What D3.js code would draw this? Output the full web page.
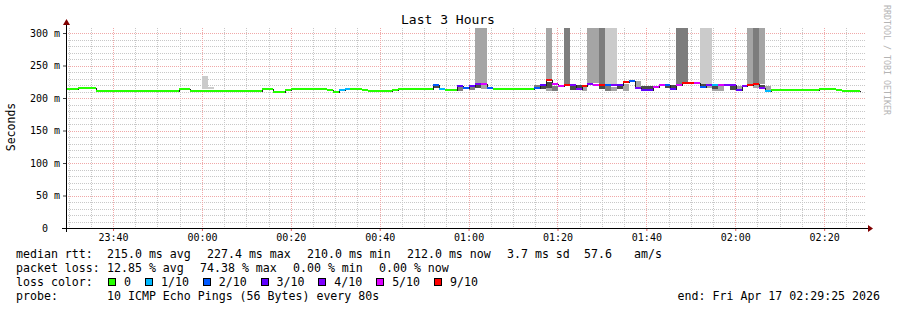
<!DOCTYPE html>
<html>
<head>
<meta charset="utf-8">
<script src="https://cdn.jsdelivr.net/npm/d3@7"></script>
<style>
  body { margin: 0; background: #fff; }
  svg text { font-family: "DejaVu Sans Mono", monospace; white-space: pre; }
</style>
</head>
<body>
<svg id="chart"></svg>
<script>
// time window of the graph and the rrd step
var startTime = new Date(2026, 3, 16, 23, 29, 25);
var endTime = new Date(2026, 3, 17, 2, 29, 25);
var stepSec = 80;
var lastStep = 134;

// loss legend
var lossLabels = ["0", "1/10", "2/10", "3/10", "4/10", "5/10", "9/10"];
var lossColors = ["#26ff00", "#00b8ff", "#0059ff", "#5e00ff", "#7e00ff", "#dd00ff", "#ff0000"];

// median rtt, as runs of equal steps (step index where the run starts)
var runStep = [0, 2, 5, 19, 21, 33, 35, 36, 37, 38, 44, 45, 46, 47, 48, 50, 51, 55, 56,
  62, 63, 64, 66, 67, 68, 69, 70, 71, 72, 79, 80, 81, 82, 83, 84, 85, 86, 87, 88, 89,
  90, 91, 92, 93, 94, 95, 96, 97, 99, 100, 101, 102, 103, 104, 106, 107, 108, 109, 110,
  111, 113, 114, 115, 116, 117, 118, 119, 127, 130, 131];
var runMedian = [213.5, 215, 211.5, 214, 211.5, 214, 210, 209, 212.5, 214, 212, 210, 212.5, 214.5, 214.5, 212.5, 211.5, 213, 214.5,
  220.5, 214, 212, 219, 215, 219, 221, 221, 215.5, 214, 215, 220, 227, 221, 219, 220, 220, 214, 218.5, 221.5, 220,
  220, 220, 220, 220, 224, 226, 215, 212, 217, 220, 220.5, 214, 219.5, 223, 222.5, 217, 220, 220, 220,
  220, 213, 218, 220, 222, 216, 211.5, 212, 214, 212, 211];
var runLoss = [0, 0, 0, 0, 0, 0, 0, 0, 0, 0, 0, 0, 1, 1, 0, 0, 0, 0, 0,
  2, 1, 0, 3, 2, 3, 4, 5, 2, 0, 2, 3, 6, 5, 5, 6, 4, 4, 6, 4, 5,
  6, 2, 4, 3, 6, 2, 4, 3, 5, 5, 2, 3, 5, 6, 5, 2, 4, 1, 5,
  4, 3, 4, 6, 6, 4, 1, 0, 0, 0, 0];

// smoke (ping spread) bands: start step, length in steps, low/high ms, band rank (1 = outer)
var smokeStep = [23, 24, 62, 66, 68, 69, 69, 70, 79, 80, 81, 81, 81, 82, 84, 85, 86, 87, 88, 90, 90,
  91, 91, 92, 93, 94, 96, 97, 101, 102, 103, 107, 107, 108, 109, 109, 110, 112, 113, 115, 116, 116, 117, 117, 118];
var smokeLen = [1, 1, 1, 1, 1, 2, 1, 1, 1, 1, 1, 1, 1, 1, 1, 1, 1, 1, 2, 1, 1,
  2, 1, 1, 1, 1, 1, 2, 1, 1, 2, 2, 1, 1, 1, 1, 1, 1, 1, 1, 1, 1, 1, 1, 1];
var smokeLo = [213.5, 213.5, 215, 211, 213, 222, 216, 214, 216.5, 214, 228, 216, 211, 211, 222, 212, 215, 211, 223, 222, 214,
  222, 211, 211, 214, 211, 216, 214, 216, 215, 222, 222, 218, 215, 214, 211, 211, 212, 214, 221, 222, 216, 221, 216, 212];
var smokeHi = [233.5, 217, 219, 217, 217, 400, 219.5, 219.5, 220, 218.5, 400, 225, 216, 219, 400, 218, 220, 217, 400, 400, 219,
  400, 218, 217, 219, 222, 226, 219, 219, 220, 400, 400, 221, 219, 219, 214, 219, 218, 218, 400, 400, 220, 400, 220, 218];
var smokeRank = [1, 1, 4, 3, 3, 2, 4, 2, 3, 4, 2, 4, 2, 3, 3, 4, 4, 2, 2, 3, 4,
  1, 3, 2, 4, 2, 2, 4, 4, 4, 3, 1, 4, 2, 4, 2, 2, 4, 2, 2, 3, 2, 2, 4, 2];
var smokeGreys = ["#cbcbcb", "#a5a5a5", "#7d7d7d", "#4a4a4a"];

// y axis ticks
var yTicks = [0, 50, 100, 150, 200, 250, 300];

// legend text
var rttLine = ["median rtt:", "215.0 ms avg", "227.4 ms max", "210.0 ms min", "212.0 ms now", "3.7 ms sd", "57.6", "am/s"];
var rttX = [16, 107, 207, 307, 407, 507, 584, 634];
var lossLine = ["packet loss:", "12.85 % avg", "74.38 % max", "0.00 % min", "0.00 % now"];
var lossX = [16, 107, 200, 293, 379];
var probeText = "10 ICMP Echo Pings (56 Bytes) every 80s";
var endText = "end: Fri Apr 17 02:29:25 2026";

var W = 897, H = 310;
var svg = d3.select("#chart").attr("width", W).attr("height", H);

var x = d3.scaleTime().domain([startTime, endTime]).range([66, 866]);
var y = d3.scaleLinear().domain([0, 307.7]).range([228, 28]);

function stepTime(k) { return new Date(startTime.getTime() + k * stepSec * 1000); }

// grid
var minorY = d3.range(10, 301, 10).filter(function(v) { return v % 50 !== 0; });
var minorX = d3.timeMinute.every(5).range(startTime, endTime).filter(function(d) { return d.getMinutes() % 20 !== 0; });
var majorX = d3.timeMinute.every(20).range(startTime, endTime);

var grid = svg.append("g").attr("shape-rendering", "crispEdges");
grid.selectAll(".hmin").data(minorY).enter().append("line")
  .attr("x1", 66).attr("x2", 866)
  .attr("y1", function(d) { return Math.round(y(d)) + 0.5; })
  .attr("y2", function(d) { return Math.round(y(d)) + 0.5; })
  .attr("stroke", "#c8c8c8").attr("stroke-dasharray", "1,1");
grid.selectAll(".vmin").data(minorX).enter().append("line")
  .attr("x1", function(d) { return Math.round(x(d)) + 0.5; })
  .attr("x2", function(d) { return Math.round(x(d)) + 0.5; })
  .attr("y1", 28).attr("y2", 228)
  .attr("stroke", "#c8c8c8").attr("stroke-dasharray", "1,1");
grid.selectAll(".hmaj").data(yTicks.slice(1)).enter().append("line")
  .attr("x1", 66).attr("x2", 866)
  .attr("y1", function(d) { return Math.round(y(d)) + 0.5; })
  .attr("y2", function(d) { return Math.round(y(d)) + 0.5; })
  .attr("stroke", "#f0a8a8").attr("stroke-dasharray", "1,1");
grid.selectAll(".vmaj").data(majorX).enter().append("line")
  .attr("x1", function(d) { return Math.round(x(d)) + 0.5; })
  .attr("x2", function(d) { return Math.round(x(d)) + 0.5; })
  .attr("y1", 28).attr("y2", 228)
  .attr("stroke", "#f0a8a8").attr("stroke-dasharray", "1,1");

// clip to plot area
svg.append("clipPath").attr("id", "plot")
  .append("rect").attr("x", 66).attr("y", 28).attr("width", 800).attr("height", 200);

var plot = svg.append("g").attr("clip-path", "url(#plot)");

// smoke
plot.selectAll(".smoke").data(smokeStep).enter().append("rect")
  .attr("shape-rendering", "crispEdges")
  .attr("x", function(d) { return x(stepTime(d)); })
  .attr("width", function(d, i) { return x(stepTime(d + smokeLen[i])) - x(stepTime(d)); })
  .attr("y", function(d, i) { return y(smokeHi[i]); })
  .attr("height", function(d, i) { return y(smokeLo[i]) - y(smokeHi[i]); })
  .attr("fill", function(d, i) { return smokeGreys[smokeRank[i] - 1]; });

// snap a value to the pixel grid so the 2px median line stays crisp
function yPix(v) { return Math.round(y(v)); }

// median: thin dark step line underneath
var pts = runStep.map(function(k, i) { return [stepTime(k), runMedian[i]]; });
pts.push([stepTime(lastStep), runMedian[runMedian.length - 1]]);
var stepLine = d3.line()
  .x(function(d) { return Math.round(x(d[0])) + 0.5; })
  .y(function(d) { return yPix(d[1]) + 0.5; })
  .curve(d3.curveStepAfter);
plot.append("path").datum(pts)
  .attr("d", stepLine).attr("shape-rendering", "crispEdges")
  .attr("fill", "none").attr("stroke", "#202020").attr("stroke-width", 1);

// median coloured by loss
plot.selectAll(".med").data(runStep).enter().append("line")
  .attr("shape-rendering", "crispEdges")
  .attr("x1", function(d) { return Math.round(x(stepTime(d))); })
  .attr("x2", function(d, i) { return Math.round(x(stepTime(i + 1 < runStep.length ? runStep[i + 1] : lastStep))); })
  .attr("y1", function(d, i) { return yPix(runMedian[i]); })
  .attr("y2", function(d, i) { return yPix(runMedian[i]); })
  .attr("stroke", function(d, i) { return lossColors[runLoss[i]]; })
  .attr("stroke-width", 2);

// axes
var yAxis = d3.axisLeft(y).tickValues(yTicks).tickSize(3).tickPadding(3)
  .tickFormat(function(d) { return d === 0 ? "0  " : d + " m"; });
var gy = svg.append("g").attr("transform", "translate(66,0)").call(yAxis);
gy.select(".domain").remove();
gy.selectAll("line").attr("stroke", "#404040");
gy.selectAll("text").attr("font-size", 10).attr("font-family", "DejaVu Sans Mono").attr("fill", "#000");

var xAxis = d3.axisBottom(x).ticks(d3.timeMinute.every(20)).tickSize(3).tickPadding(3)
  .tickFormat(d3.timeFormat("%H:%M"));
var gx = svg.append("g").attr("transform", "translate(0,228)").call(xAxis);
gx.select(".domain").remove();
gx.selectAll("line").attr("stroke", "#e06060");
gx.selectAll("text").attr("font-size", 10).attr("font-family", "DejaVu Sans Mono").attr("fill", "#000");

svg.append("line").attr("x1", 62).attr("x2", 868).attr("y1", 228.5).attr("y2", 228.5)
  .attr("stroke", "#000").attr("shape-rendering", "crispEdges");
svg.append("line").attr("x1", 66.5).attr("x2", 66.5).attr("y1", 232).attr("y2", 24)
  .attr("stroke", "#000").attr("shape-rendering", "crispEdges");
svg.append("path").attr("d", "M868,225 L873,228.5 L868,232 Z").attr("fill", "#800000");
svg.append("path").attr("d", "M63,25 L66.5,19 L70,25 Z").attr("fill", "#800000");

// titles
svg.append("text").attr("x", 448).attr("y", 24).attr("text-anchor", "middle")
  .attr("font-size", 13).text("Last 3 Hours");
svg.append("text").attr("transform", "translate(15,127) rotate(-90)")
  .attr("text-anchor", "middle").attr("font-size", 11.5).text("Seconds");
svg.append("text").attr("transform", "translate(884,5) rotate(90)")
  .attr("font-size", 8.3).attr("fill", "#b4b4b4").text("RRDTOOL / TOBI OETIKER");

// legend
var fs = 11.6;
svg.selectAll(".rtt").data(rttLine).enter().append("text")
  .attr("x", function(d, i) { return rttX[i]; }).attr("y", 258)
  .attr("font-size", fs).text(function(d) { return d; });
svg.selectAll(".pl").data(lossLine).enter().append("text")
  .attr("x", function(d, i) { return lossX[i]; }).attr("y", 272)
  .attr("font-size", fs).text(function(d) { return d; });
svg.append("text").attr("x", 16).attr("y", 286).attr("font-size", fs).text("loss color:");

var lx = 108, charW = 6.95;
lossLabels.forEach(function(lab, i) {
  svg.append("rect").attr("x", lx + 0.5).attr("y", 278.5).attr("width", 7).attr("height", 7)
    .attr("fill", lossColors[i]).attr("stroke", "#000").attr("shape-rendering", "crispEdges");
  svg.append("text").attr("x", lx + 16).attr("y", 286).attr("font-size", fs).text(lab);
  lx += 16 + lab.length * charW + 14;
});

svg.append("text").attr("x", 16).attr("y", 300).attr("font-size", fs).text("probe:");
svg.append("text").attr("x", 107).attr("y", 300).attr("font-size", fs).text(probeText);
svg.append("text").attr("x", 880).attr("y", 300).attr("text-anchor", "end").attr("font-size", fs).text(endText);
</script>
</body>
</html>
